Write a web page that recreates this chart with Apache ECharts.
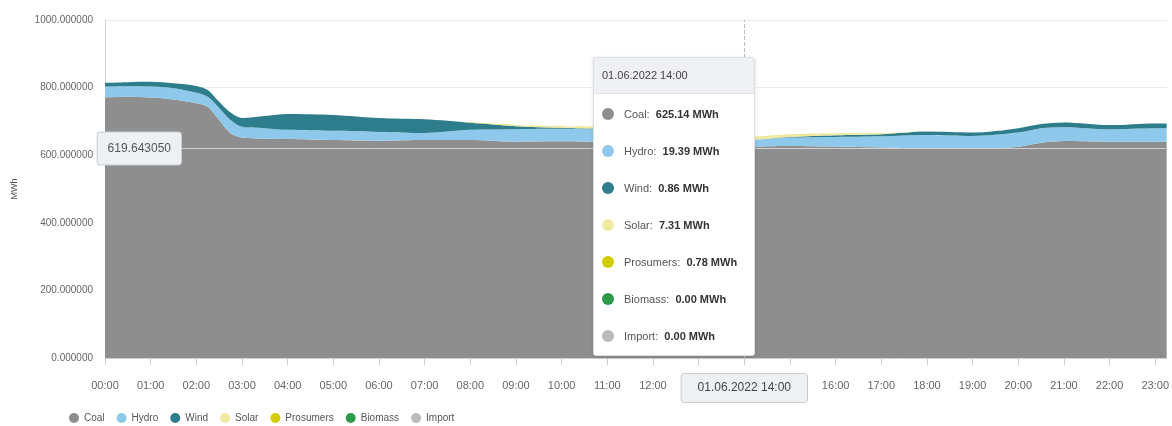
<!DOCTYPE html>
<html><head><meta charset="utf-8">
<script src="https://cdn.jsdelivr.net/npm/echarts@6/dist/echarts.min.js"></script>
<style>html,body{margin:0;padding:0;background:#fff}#c{width:1172px;height:426px}</style>
</head><body><div id="c"></div>
<script>
// hour of day (x positions of the data points)
const hours = [0, 0.5, 1, 1.5, 2, 2.25, 2.5, 2.75, 3, 3.5, 4, 5, 6, 7, 8, 9, 10, 11, 12, 13, 14, 15, 16, 17, 18, 19, 20, 20.5, 21, 22, 23, 23.25];
const coal = [771, 773, 771, 765, 754, 743, 704, 665, 652, 649, 648, 645, 643, 645, 645, 640, 641, 638, 632, 628, 625.14, 627, 625, 623, 620, 619, 625, 637, 642, 640, 640, 640];
const hydro = [32, 31, 32, 33, 31, 30, 36, 39, 32, 31, 27, 27, 26, 21, 30, 37, 37, 36, 28, 22, 19.39, 25, 29, 33, 40, 38, 42, 43, 41, 37, 40, 40];
const wind = [11, 12, 14, 15, 20, 20, 18, 22, 26, 36, 47, 47, 41, 40, 21, 9, 3, 2, 1.5, 1, 0.86, 2, 5, 6, 10, 10, 13, 12, 14, 12, 14, 14];
const solar = [0, 0, 0, 0, 0, 0, 0, 0, 0, 0, 0, 0, 0, 0.3, 1, 3, 4.5, 5.5, 6.8, 7.5, 7.31, 6.5, 4.5, 2.5, 0.8, 0.1, 0, 0, 0, 0, 0, 0];
const prosumers = [0, 0, 0, 0, 0, 0, 0, 0, 0, 0, 0, 0, 0, 0.05, 0.2, 0.4, 0.6, 0.7, 0.8, 0.8, 0.78, 0.7, 0.5, 0.3, 0.1, 0, 0, 0, 0, 0, 0, 0];
const biomass = [0, 0, 0, 0, 0, 0, 0, 0, 0, 0, 0, 0, 0, 0, 0, 0, 0, 0, 0, 0, 0, 0, 0, 0, 0, 0, 0, 0, 0, 0, 0, 0];
const importE = [0, 0, 0, 0, 0, 0, 0, 0, 0, 0, 0, 0, 0, 0, 0, 0, 0, 0, 0, 0, 0, 0, 0, 0, 0, 0, 0, 0, 0, 0, 0, 0];

const seriesNames = ['Coal', 'Hydro', 'Wind', 'Solar', 'Prosumers', 'Biomass', 'Import'];
const seriesValues = [coal, hydro, wind, solar, prosumers, biomass, importE];
const colors = ['#8e8e8e', '#8ec9ec', '#2e7d8c', '#efe9a2', '#d3cc06', '#2f9a49', '#b8bcbc'];

const tickHours = [0, 1, 2, 3, 4, 5, 6, 7, 8, 9, 10, 11, 12, 13, 14, 15, 16, 17, 18, 19, 20, 21, 22, 23];
const dateLabel = '01.06.2022';
const hoverHour = 14;
const hoverY = 619.643050;
const xMaxHour = 23.25;

function hh(h) { const n = Math.floor(h + 1e-6); return (n < 10 ? '0' : '') + n + ':00'; }

const chart = echarts.init(document.getElementById('c'), null, { renderer: 'canvas' });

// data items are [MWh, hour] so the first (stackable) dimension is the y value
const series = seriesNames.map((name, i) => ({
  name: name,
  type: 'line',
  stack: 'total',
  smooth: 0.3,
  symbol: 'none',
  encode: { x: 1, y: 0 },
  data: hours.map((h, j) => [seriesValues[i][j], h]),
  lineStyle: { width: 0 },
  itemStyle: { color: colors[i] },
  areaStyle: { color: colors[i], opacity: 1 },
  emphasis: { disabled: true },
  animation: false
}));

chart.setOption({
  animation: false,
  textStyle: { fontFamily: 'Liberation Sans, Arial, sans-serif' },
  grid: { left: 105, right: 4, top: 20, bottom: 68 },
  legend: {
    left: 64, top: 408,
    icon: 'circle', itemWidth: 10, itemHeight: 10, itemGap: 12,
    textStyle: { fontSize: 10, color: '#555' },
    data: seriesNames
  },
  tooltip: {
    trigger: 'axis',
    alwaysShowContent: true,
    triggerOn: 'none',
    position: [593, 57],
    padding: 0,
    backgroundColor: '#fff',
    borderColor: '#dcdfe3',
    borderWidth: 1,
    extraCssText: 'box-shadow:0 1px 4px rgba(0,0,0,0.12);border-radius:3px;',
    axisPointer: {
      type: 'cross',
      crossStyle: { color: '#c8c8c8' }
    },
    formatter: function (params) {
      const idx = params[0].dataIndex;
      const h = hours[idx];
      let html = '<div style="width:160px;font-family:Liberation Sans,Arial,sans-serif;font-size:11px;">';
      html += '<div style="background:#eef0f3;height:35px;line-height:35px;padding-left:8px;color:#444;border-bottom:1px solid #e2e5e8;">' + dateLabel + ' ' + hh(h) + '</div>';
      html += '<div style="padding-top:2px;">';
      params.slice().sort((a, b) => a.seriesIndex - b.seriesIndex).forEach(p => {
        const v = seriesValues[p.seriesIndex][idx];
        html += '<div style="height:37px;line-height:37px;padding-left:8px;white-space:nowrap;">' +
          '<span style="display:inline-block;width:12px;height:12px;border-radius:6px;background:' + colors[p.seriesIndex] + ';vertical-align:-2px;margin-right:10px;"></span>' +
          '<span style="color:#555;">' + p.seriesName + ':</span>&nbsp;&nbsp;<b style="color:#333;">' + v.toFixed(2) + ' MWh</b></div>';
      });
      html += '</div></div>';
      return html;
    }
  },
  xAxis: {
    type: 'value',
    min: 0, max: xMaxHour, interval: 1,
    axisLine: { show: true, lineStyle: { color: '#ccd0d4' } },
    axisTick: { show: true, length: 7, lineStyle: { color: '#c8ccd0' }, customValues: tickHours },
    axisLabel: { color: '#666', fontSize: 11, margin: 22, customValues: tickHours, formatter: v => hh(v) },
    splitLine: { show: false },
    axisPointer: {
      snap: true,
      lineStyle: { color: '#bbbbbb', type: 'dashed', width: 1 },
      label: {
        formatter: p => dateLabel + ' ' + hh(p.value),
        backgroundColor: '#eef1f4', borderColor: '#c9cdd2', borderWidth: 1,
        color: '#444', fontSize: 12, padding: [8, 16], margin: 16, shadowBlur: 0
      }
    }
  },
  yAxis: {
    type: 'value',
    min: 0, max: 1000, interval: 200,
    name: 'MWh', nameLocation: 'middle', nameGap: 86,
    nameTextStyle: { fontSize: 9, color: '#555' },
    axisLine: { show: true, lineStyle: { color: '#d0d3d6' } },
    axisTick: { show: false },
    axisLabel: { color: '#666', fontSize: 10, margin: 12, padding: [0, 0, 7, 0], formatter: v => v.toFixed(6) },
    splitLine: { lineStyle: { color: '#ebebeb' } },
    axisPointer: {
      lineStyle: { color: '#cfcfcf', type: 'solid', width: 1 },
      label: {
        formatter: p => p.value.toFixed(6),
        backgroundColor: '#eef1f4', borderColor: '#c9cdd2', borderWidth: 1,
        color: '#555', fontSize: 12, padding: [10, 10], margin: -76, shadowBlur: 0
      }
    }
  },
  series: series
});

const px = chart.convertToPixel({ xAxisIndex: 0 }, hoverHour);
const py = chart.convertToPixel({ yAxisIndex: 0 }, hoverY);
chart.dispatchAction({ type: 'showTip', x: px, y: py });
</script>
</body></html>
